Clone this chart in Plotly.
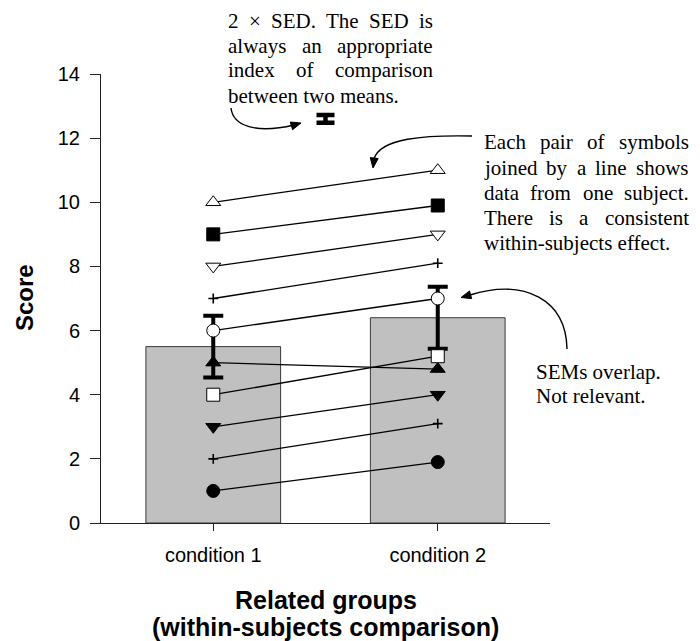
import plotly.graph_objects as go

# ---------------- data ----------------
categories = ["condition 1", "condition 2"]
means = [5.5, 6.4]
sems = [0.96, 0.97]

subject_cond1 = [10, 9, 8, 7, 6, 5, 4, 3, 2, 1]
subject_cond2 = [11, 9.9, 9, 8.1, 7, 4.8, 5.2, 4, 3.1, 1.9]
subject_symbols = ["triangle-up", "square", "triangle-down", "cross-thin", "circle",
                   "triangle-up", "square", "triangle-down", "cross-thin", "circle"]
subject_fills = ["white", "black", "white", "black", "white",
                 "black", "white", "black", "black", "black"]

sed_x = 0.5
sed_y = 12.6
sed_half = 0.12  # half of 2 x SED marker

y_ticks = [0, 2, 4, 6, 8, 10, 12, 14]

# ---------------- layout geometry ----------------
OFF = 8  # page body margin
W, H = 700 - OFF, 641 - OFF
L, R, T, B = 101 - OFF, 150, 74 - OFF, 118
PW = W - L - R
PH = H - T - B


def px(x, y):
    x -= OFF
    y -= OFF
    return (x - L) / PW, (H - B - y) / PH


SERIF = "Liberation Serif"
SANS = "Liberation Sans"

fig = go.Figure()

fig.add_trace(go.Bar(
    x=[0, 1], y=means, width=0.6,
    marker=dict(color="#c0c0c0", line=dict(color="#3a3a3a", width=1)),
    hoverinfo="skip", showlegend=False))

fig.add_trace(go.Scatter(
    x=[0, 1], y=means, mode="markers",
    marker=dict(size=1, color="rgba(0,0,0,0)"),
    error_y=dict(type="data", array=sems, thickness=4, width=10, color="black"),
    showlegend=False, hoverinfo="skip"))

fig.add_trace(go.Scatter(
    x=[sed_x], y=[sed_y], mode="markers",
    marker=dict(size=1, color="rgba(0,0,0,0)"),
    error_y=dict(type="data", array=[sed_half], thickness=4.5, width=9, color="black"),
    showlegend=False, hoverinfo="skip", cliponaxis=False))

for a, b, sym, fill in zip(subject_cond1, subject_cond2, subject_symbols, subject_fills):
    is_cross = sym.startswith("cross")
    fig.add_trace(go.Scatter(
        x=[0, 1], y=[a, b], mode="lines+markers",
        line=dict(color="black", width=1.3),
        marker=dict(symbol=sym, size=7 if is_cross else 13,
                    color=fill,
                    line=dict(color="black", width=1.6 if is_cross else 1)),
        showlegend=False, hoverinfo="skip", cliponaxis=False))

# ---------------- text helpers ----------------
TIMES_W = {' ': 250, '.': 250, '-': 333, '×': 564, '2': 500,
           'a': 444, 'b': 500, 'c': 444, 'd': 500, 'e': 444, 'f': 333, 'g': 500,
           'h': 500, 'i': 278, 'j': 278, 'k': 500, 'l': 278, 'm': 778, 'n': 500,
           'o': 500, 'p': 500, 'q': 500, 'r': 333, 's': 389, 't': 278, 'u': 500,
           'v': 500, 'w': 722, 'x': 500, 'y': 500, 'z': 444,
           'A': 722, 'D': 722, 'E': 611, 'N': 722, 'S': 556, 'T': 611, 'M': 889}

FS = 21


def tw(s):
    return sum(TIMES_W.get(c, 500) for c in s) / 1000 * FS


annotations = []


def add_text(x, y, text):
    xp, yp = px(x, y)
    annotations.append(dict(x=xp, y=yp, xref="paper", yref="paper", text=text,
                            showarrow=False, xanchor="left", yanchor="middle",
                            borderpad=0, font=dict(family=SERIF, size=FS, color="black")))


def add_block(left, right, ys, lines, justify=True):
    for i, (y, line) in enumerate(zip(ys, lines)):
        words = line.split(" ")
        if not justify or i == len(lines) - 1 or len(words) < 2:
            add_text(left, y, line)
            continue
        total = sum(tw(w) for w in words)
        gap = (right - left - total) / (len(words) - 1)
        x = left
        for w in words:
            add_text(x, y, w)
            x += tw(w) + gap


add_block(227, 432, [21, 45.5, 70.5, 96],
          ["2 × SED. The SED is", "always an appropriate",
           "index of comparison", "between two means."])
add_block(483, 688, [141.5, 168, 193, 218, 243],
          ["Each pair of symbols", "joined by a line shows", "data from one subject.",
           "There is a consistent", "within-subjects effect."])
add_block(535, 660, [372, 396], ["SEMs overlap.", "Not relevant."], justify=False)

# axis titles
for txt, y in [("Related groups", 600), ("(within-subjects comparison)", 627)]:
    xp, yp = px(325.5, y)
    annotations.append(dict(x=xp, y=yp, xref="paper", yref="paper", text="<b>%s</b>" % txt,
                            showarrow=False, xanchor="center", yanchor="middle",
                            font=dict(family=SANS, size=25, color="black")))
xp, yp = px(24, 298)
annotations.append(dict(x=xp, y=yp, xref="paper", yref="paper", text="<b>Score</b>",
                        showarrow=False, xanchor="center", yanchor="middle", textangle=-90,
                        font=dict(family=SANS, size=24, color="black")))

# ---------------- curved arrows ----------------
shapes = []


def curve(pts):
    p = [px(*q) for q in pts]
    d = "M %.4f %.4f C %.4f %.4f %.4f %.4f %.4f %.4f" % (p[0] + p[1] + p[2] + p[3])
    shapes.append(dict(type="path", path=d, xref="paper", yref="paper",
                       line=dict(color="black", width=1.4)))


def head(tip, direction, length=10, half=4):
    dx, dy = direction
    n = (dx * dx + dy * dy) ** 0.5
    dx, dy = dx / n, dy / n
    bx, by = tip[0] - length * dx, tip[1] - length * dy
    nx, ny = -dy, dx
    pts = [tip, (bx + half * nx, by + half * ny), (bx - half * nx, by - half * ny)]
    pp = [px(*q) for q in pts]
    d = "M %.4f %.4f L %.4f %.4f L %.4f %.4f Z" % (pp[0] + pp[1] + pp[2])
    shapes.append(dict(type="path", path=d, xref="paper", yref="paper",
                       fillcolor="black", line=dict(color="black", width=1)))


curve([(231, 108), (233, 126), (256, 134), (294, 125)])
head((301, 123), (1, -0.3))
curve([(472, 136), (425, 135), (380, 138), (374, 159)])
head((373, 168), (-0.12, 1))
curve([(567, 349), (566, 300), (525, 278), (470, 295)])
head((461, 297.5), (-1, 0.28))

fig.update_layout(
    width=W, height=H,
    margin=dict(l=L, r=R, t=T, b=B, pad=0),
    plot_bgcolor="white", paper_bgcolor="white",
    showlegend=False,
    annotations=annotations, shapes=shapes,
    xaxis=dict(range=[-0.5, 1.5], tickvals=[0, 1], ticktext=categories,
               showgrid=False, zeroline=False, showline=True, linecolor="#222", linewidth=1,
               ticks="outside", ticklen=7, tickcolor="#222",
               tickfont=dict(family=SANS, size=20, color="black"), ticklabelstandoff=7),
    yaxis=dict(range=[0, 14], tickvals=y_ticks, showgrid=False, zeroline=False,
               showline=True, linecolor="#222", linewidth=1,
               ticks="outside", ticklen=10, tickcolor="#222",
               tickfont=dict(family=SANS, size=20, color="black"), ticklabelstandoff=6),
)

fig.write_html("out.html")
